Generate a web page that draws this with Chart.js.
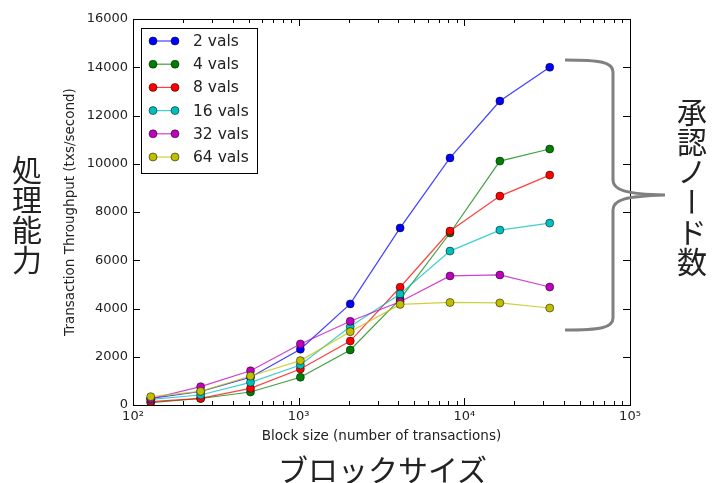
<!DOCTYPE html>
<html>
<head>
<meta charset="utf-8">
<script src="https://cdn.jsdelivr.net/npm/chart.js@4.4.0/dist/chart.umd.min.js"></script>
<style>
body { margin: 0; background: #fff; }
#wrap { position: relative; width: 713px; height: 483px; }
.jp { position: absolute; font-family: "Noto Sans CJK JP"; color: #222; font-size: 30px; line-height: 1; }
.vert { writing-mode: vertical-rl; }
</style>
</head>
<body>
<div id="wrap">
  <canvas id="myChart" width="713" height="483"></canvas>
  <div class="jp vert" style="left:12px; top:155px;">処理能力</div>
  <div class="jp vert" style="left:677px; top:97px;">承認ノード数</div>
  <div class="jp" style="left:278px; top:453px;">ブロックサイズ</div>
  <svg style="position:absolute; left:0; top:0;" width="713" height="483">
    <path d="M565,60 C600,60 613,62 613,72 L613,180 C613,190 625,194 665,195 C625,196 613,200 613,210 L613,318 C613,328 600,330 565,330"
          fill="none" stroke="#808080" stroke-width="3"/>
  </svg>
</div>
<script>
// Taille de bloc (nombre de transactions)
var blockSizes = [128, 256, 512, 1024, 2048, 4096, 8192, 16384, 32768];

// Débit mesuré pour chaque nombre de validateurs
var vals2  = [270, 560, 1150, 2310, 4190, 7340, 10240, 12600, 14000];
var vals4  = [100, 270, 540, 1150, 2280, 4390, 7130, 10110, 10610];
var vals8  = [140, 275, 690, 1490, 2650, 4880, 7210, 8660, 9530];
var vals16 = [230, 415, 940, 1660, 3250, 4600, 6380, 7250, 7540];
var vals32 = [260, 760, 1420, 2530, 3470, 4280, 5350, 5390, 4890];
var vals64 = [345, 565, 1200, 1840, 3040, 4170, 4250, 4230, 4020];

var seriesLabels = ['2 vals', '4 vals', '8 vals', '16 vals', '32 vals', '64 vals'];
var seriesValues = [vals2, vals4, vals8, vals16, vals32, vals64];
var seriesColors = ['#0000ff', '#008000', '#ff0000', '#00bfbf', '#bf00bf', '#bfbf00'];
var lineColors = ['rgba(0,0,255,0.75)', 'rgba(0,128,0,0.75)', 'rgba(255,0,0,0.75)',
                  'rgba(0,191,191,0.75)', 'rgba(191,0,191,0.75)', 'rgba(191,191,0,0.75)'];

var xMajorTicks = [100, 1000, 10000, 100000];
var xTickLabels = ['10²', '10³', '10⁴', '10⁵'];
var yTicks = [0, 2000, 4000, 6000, 8000, 10000, 12000, 14000, 16000];

var datasets = [];
for (var i = 0; i < seriesValues.length; i++) {
    var pts = [];
    for (var j = 0; j < blockSizes.length; j++) {
        pts.push({ x: blockSizes[j], y: seriesValues[i][j] });
    }
    datasets.push({
        label: seriesLabels[i],
        data: pts,
        borderColor: lineColors[i],
        backgroundColor: seriesColors[i],
        pointBackgroundColor: seriesColors[i],
        pointBorderColor: '#000',
        pointBorderWidth: 0.5,
        pointRadius: 4,
        borderWidth: 1.2,
        order: seriesValues.length - i
    });
}

// Cadre, graduations intérieures et légende façon matplotlib
var framePlugin = {
    id: 'frame',
    afterDraw: function (chart) {
        var ctx = chart.ctx;
        var a = chart.chartArea;
        var xs = chart.scales.x, ys = chart.scales.y;
        ctx.save();
        ctx.strokeStyle = '#000';
        ctx.lineWidth = 1;
        ctx.strokeRect(a.left + 0.5, a.top + 0.5, a.right - a.left, a.bottom - a.top);

        ctx.beginPath();
        for (var d = 100; d < 100000; d *= 10) {
            for (var k = 1; k <= 9; k++) {
                var v = d * k;
                var px = Math.round(xs.getPixelForValue(v)) + 0.5;
                var len = (k === 1) ? 7 : 4;
                ctx.moveTo(px, a.bottom); ctx.lineTo(px, a.bottom - len);
                ctx.moveTo(px, a.top); ctx.lineTo(px, a.top + len);
            }
        }
        for (var t = 0; t < yTicks.length; t++) {
            var py = Math.round(ys.getPixelForValue(yTicks[t])) + 0.5;
            ctx.moveTo(a.left, py); ctx.lineTo(a.left + 7, py);
            ctx.moveTo(a.right, py); ctx.lineTo(a.right - 7, py);
        }
        ctx.stroke();

        // légende
        var lx = 141, ly = 28, lw = 116, lh = 145;
        ctx.fillStyle = '#fff';
        ctx.fillRect(lx, ly, lw, lh);
        ctx.strokeRect(lx + 0.5, ly + 0.5, lw, lh);
        ctx.font = '15.5px "DejaVu Sans"';
        ctx.textBaseline = 'middle';
        for (var s = 0; s < seriesLabels.length; s++) {
            var yy = ly + 13 + s * 23.2;
            ctx.strokeStyle = lineColors[s];
            ctx.lineWidth = 1.2;
            ctx.beginPath();
            ctx.moveTo(153, yy); ctx.lineTo(175, yy);
            ctx.stroke();
            var ends = [153, 175];
            for (var e = 0; e < 2; e++) {
                ctx.beginPath();
                ctx.arc(ends[e], yy, 4, 0, Math.PI * 2);
                ctx.fillStyle = seriesColors[s];
                ctx.fill();
                ctx.lineWidth = 0.5;
                ctx.strokeStyle = '#000';
                ctx.stroke();
            }
            ctx.fillStyle = '#222';
            ctx.fillText(seriesLabels[s], 193, yy + 1);
        }
        ctx.restore();
    }
};

var ctx = document.getElementById('myChart').getContext('2d');
var myChart = new Chart(ctx, {
    type: 'line',
    data: { datasets: datasets },
    plugins: [framePlugin],
    options: {
        responsive: false,
        animation: false,
        layout: { padding: { left: 62, top: 19, right: 83, bottom: 38 } },
        plugins: { legend: { display: false }, tooltip: { enabled: false } },
        scales: {
            x: {
                type: 'logarithmic',
                min: 100,
                max: 100000,
                afterBuildTicks: function (scale) {
                    scale.ticks = xMajorTicks.map(function (v) { return { value: v }; });
                },
                afterFit: function (scale) { scale.height = 40; },
                ticks: {
                    autoSkip: false,
                    maxRotation: 0,
                    padding: 4,
                    color: '#222',
                    font: { family: 'DejaVu Sans', size: 13 },
                    callback: function (value) {
                        var idx = xMajorTicks.indexOf(value);
                        return idx >= 0 ? xTickLabels[idx] : '';
                    }
                },
                grid: { display: false, drawTicks: false },
                border: { display: false },
                title: {
                    display: true,
                    text: 'Block size (number of transactions)',
                    color: '#222',
                    font: { family: 'DejaVu Sans', size: 13.5 },
                    padding: { top: 1, bottom: 0 }
                }
            },
            y: {
                min: 0,
                max: 16000,
                afterBuildTicks: function (scale) {
                    scale.ticks = yTicks.map(function (v) { return { value: v }; });
                },
                afterFit: function (scale) { scale.width = 71; },
                ticks: {
                    padding: 5,
                    color: '#222',
                    font: { family: 'DejaVu Sans', size: 13 },
                    callback: function (value) { return String(value); }
                },
                grid: { display: false, drawTicks: false },
                border: { display: false },
                title: {
                    display: true,
                    text: 'Transaction Throughput (txs/second)',
                    color: '#222',
                    font: { family: 'DejaVu Sans', size: 13.5 },
                    padding: { top: 0, bottom: 4 }
                }
            }
        }
    }
});
</script>
</body>
</html>
